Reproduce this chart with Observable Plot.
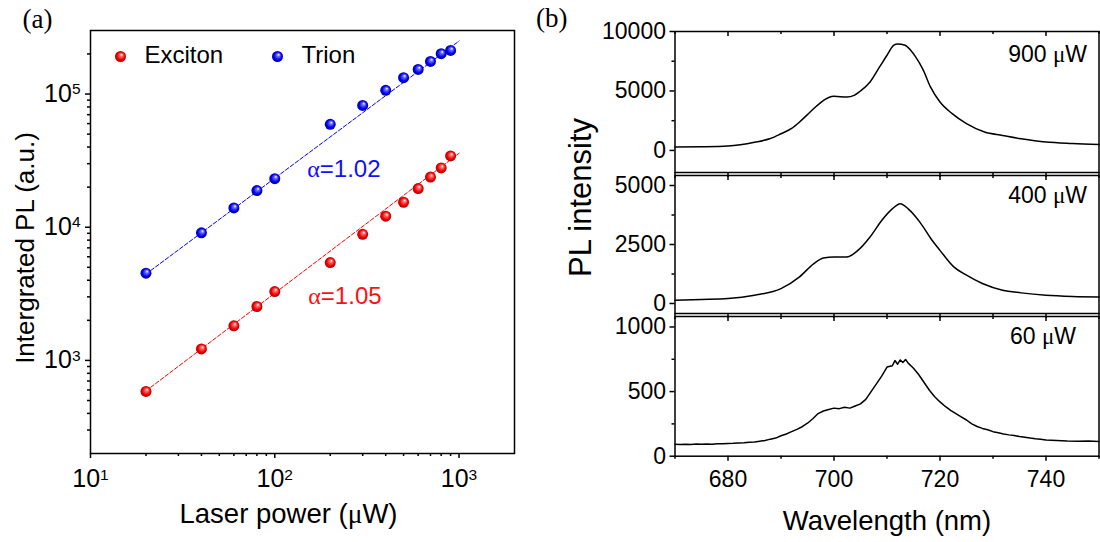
<!DOCTYPE html>
<html><head><meta charset="utf-8">
<script src="https://cdn.jsdelivr.net/npm/d3@7"></script>
<script src="https://cdn.jsdelivr.net/npm/@observablehq/plot@0.6"></script>
<style>
body{margin:0;background:#fff;}
#root{position:relative;width:1100px;height:542px;overflow:hidden;background:#fff;}
#root svg{position:absolute;overflow:visible;}
</style></head><body>
<svg width="0" height="0" style="position:absolute">
<defs>
<radialGradient id="ballRed" cx="0.5" cy="0.5" r="0.5" fx="0.62" fy="0.32">
<stop offset="0" stop-color="#ffffff"/>
<stop offset="0.28" stop-color="#ff6a6a"/>
<stop offset="0.7" stop-color="#f00000"/>
<stop offset="1" stop-color="#b00000"/>
</radialGradient>
<radialGradient id="ballBlue" cx="0.5" cy="0.5" r="0.5" fx="0.62" fy="0.32">
<stop offset="0" stop-color="#ffffff"/>
<stop offset="0.28" stop-color="#6a6aff"/>
<stop offset="0.7" stop-color="#0000f0"/>
<stop offset="1" stop-color="#0000a8"/>
</radialGradient>
</defs></svg>
<div id="root"></div>
<script>
// ---------- Panel (a) data ----------
const power = [20, 40, 60, 80, 100, 200, 300, 400, 500, 600, 700, 800, 900];
const excitonPL = [585, 1220, 1820, 2540, 3290, 5430, 8850, 12100, 15400, 19500, 23800, 27900, 34300];
const trionPL = [4520, 9070, 13960, 18840, 23170, 59300, 82200, 106600, 132700, 153100, 175800, 201000, 212700];
const fitPower = [20, 1000];
const excitonFit = [590, 35900];
const trionFit = [4450, 250000];
const seriesNames = ["Exciton", "Trion"];
const alphaText = ["α=1.05", "α=1.02"];
const alphaAt = [[152, 2630], [150, 23700]];
const xMajorA = [10, 100, 1000];
const xMinorA = [20, 30, 40, 50, 60, 70, 80, 90, 200, 300, 400, 500, 600, 700, 800, 900];
const yMajorA = [1000, 10000, 100000];
const yMinorA = [300, 400, 500, 600, 700, 800, 900, 2000, 3000, 4000, 5000, 6000, 7000, 8000, 9000,
  20000, 30000, 40000, 50000, 60000, 70000, 80000, 90000, 200000];

// ---------- Panel (b) data ----------
const wl900 = [670,675,680,685,688,690,692,693.5,695.5,697.6,699,700,702.4,703.8,705,706.8,708.6,710,711.3,712,713.4,714.5,715.4,716.8,718.2,720,722.3,725,728.4,731.8,735.3,740,745,750];
const pl900 = [280,300,365,680,1000,1400,1850,2390,3230,4070,4450,4550,4490,4630,5000,5760,7020,8000,8850,8950,8850,8400,7870,6800,5340,4070,3090,2250,1545,1260,980,700,580,505];
const wl400 = [670,675,680,685,690,693.5,696.2,698,700,702.4,704.5,706.8,709,711,712.5,714,716.2,718.5,720,722.6,725,728,731.8,735.3,740,745,750];
const pl400 = [140,170,210,350,630,1130,1690,1930,1970,1970,2250,2820,3520,4010,4230,4010,3450,2680,2250,1550,1200,845,560,450,350,300,280];
const wl60 = [670,671,672,673,674,675,676,677,678,679,680,681,682,683,684,685,686,687,688,689,690,691,692,693,694,695,696,697,698,699,700,701,702,703,704,705,706,707,708,709,710,711,711.5,712,712.5,713,713.5,714,715,716,717,718,719,720,721,722,723,724,725,726,727,728,729,730,731,732,733,734,735,736,737,738,739,740,742,744,746,748,750];
const pl60 = [92,90,93,91,94,92,95,93,97,96,98,100,103,104,108,110,116,122,132,140,158,172,190,208,228,255,290,330,350,362,372,368,378,372,388,405,440,500,560,620,690,700,740,712,745,725,748,720,680,630,570,510,460,420,385,355,330,305,280,250,230,215,205,190,182,172,165,160,152,146,140,135,132,125,122,118,116,117,114];
const powerLabels = ["900 μW", "400 μW", "60 μW"];
const wlMajor = [680, 700, 720, 740];
const wlMinor = [670, 690, 710, 730, 750];
const yMajor900 = [0, 5000, 10000], yMinor900 = [2500, 7500];
const yMajor400 = [0, 2500, 5000], yMinor400 = [1250, 3750];
const yMajor60 = [0, 500, 1000], yMinor60 = [250, 750];

const SANS = '"Liberation Sans", Arial, Helvetica, sans-serif';
const SERIF = '"Liberation Serif", "Times New Roman", serif';
const root = document.getElementById("root");
const zip = (xs, ys) => xs.map((x, i) => ({x, y: ys[i]}));
const NS = "http://www.w3.org/2000/svg";

function fixText(svg) {
  svg.querySelectorAll("text").forEach(t => {
    const s = t.textContent;
    const m = s.match(/^10\^(\d)$/);
    if (m) {
      t.textContent = "10";
      const ts = document.createElementNS(NS, "tspan");
      ts.setAttribute("dy", "-0.5em");
      ts.setAttribute("font-size", "0.62em");
      ts.textContent = m[1];
      t.appendChild(ts);
    } else if (s.includes("μ") || s.startsWith("α")) {
      t.textContent = "";
      for (const part of s.split(/([μα])/)) {
        if (!part) continue;
        const ts = document.createElementNS(NS, "tspan");
        if (part === "μ" || part === "α") ts.setAttribute("font-family", SERIF);
        ts.textContent = part;
        t.appendChild(ts);
      }
    }
  });
}
function place(svg, left, top) {
  fixText(svg);
  svg.style.left = left + "px";
  svg.style.top = top + "px";
  root.appendChild(svg);
}

// ---------- Panel (a) ----------
const ex = zip(power, excitonPL), tr = zip(power, trionPL);
const exFit = zip(fitPower, excitonFit), trFit = zip(fitPower, trionFit);
const powFmt = d => "10^" + Math.round(Math.log10(d));
const pa = Plot.plot({
  width: 540, height: 542, marginLeft: 90, marginRight: 26, marginTop: 30, marginBottom: 89,
  style: {background: "transparent", fontFamily: SANS, fontSize: "25px", color: "#000", overflow: "visible"},
  x: {type: "log", domain: [10, 2000]},
  y: {type: "log", domain: [200, 300000]},
  marks: [
    Plot.axisX({ticks: xMajorA, tickSize: 5, tickPadding: 11, tickFormat: powFmt, label: null, strokeWidth: 1.5}),
    Plot.axisX({ticks: xMinorA, tickSize: 3, tickFormat: () => "", label: null, strokeWidth: 1.5}),
    Plot.axisY({ticks: yMajorA, tickSize: 5, tickPadding: 5, tickFormat: powFmt, label: null, strokeWidth: 1.5}),
    Plot.axisY({ticks: yMinorA, tickSize: 3, tickFormat: () => "", label: null, strokeWidth: 1.5}),
    Plot.frame({strokeWidth: 1.5}),
    Plot.line(exFit, {x: "x", y: "y", stroke: "#ff0000", strokeWidth: 1, strokeDasharray: "4,2"}),
    Plot.line(trFit, {x: "x", y: "y", stroke: "#0000ff", strokeWidth: 1, strokeDasharray: "4,2"}),
    Plot.dot(ex, {x: "x", y: "y", r: 5.5, fill: "url(#ballRed)"}),
    Plot.dot(tr, {x: "x", y: "y", r: 5.5, fill: "url(#ballBlue)"}),
    Plot.text([alphaText[0]], {x: [alphaAt[0][0]], y: [alphaAt[0][1]], text: d => d, fill: "#ff1010", textAnchor: "start", lineAnchor: "bottom", fontSize: 24}),
    Plot.text([alphaText[1]], {x: [alphaAt[1][0]], y: [alphaAt[1][1]], text: d => d, fill: "#1010ff", textAnchor: "start", lineAnchor: "bottom", fontSize: 24}),
    // legend
    Plot.dot([seriesNames[0]], {frameAnchor: "top-left", dx: 30, dy: 26, r: 5.5, fill: "url(#ballRed)"}),
    Plot.text([seriesNames[0]], {frameAnchor: "top-left", dx: 54, dy: 25, text: d => d, textAnchor: "start", lineAnchor: "middle", fontSize: 24}),
    Plot.dot([seriesNames[1]], {frameAnchor: "top-left", dx: 187, dy: 26, r: 5.5, fill: "url(#ballBlue)"}),
    Plot.text([seriesNames[1]], {frameAnchor: "top-left", dx: 211, dy: 25, text: d => d, textAnchor: "start", lineAnchor: "middle", fontSize: 24}),
    // titles
    Plot.text(["Laser power (μW)"], {frameAnchor: "bottom", dx: -14, dy: 69, text: d => d, lineAnchor: "bottom", fontSize: 27.5}),
    Plot.text(["Intergrated PL (a.u.)"], {frameAnchor: "left", dx: -57, dy: 6, rotate: -90, text: d => d, textAnchor: "middle", lineAnchor: "bottom", fontSize: 26}),
    Plot.text(["(a)"], {frameAnchor: "top-left", dx: -68, dy: -3, text: d => d, textAnchor: "start", lineAnchor: "bottom", fontFamily: SERIF, fontSize: 27})
  ]
});
place(pa, 0, 0);

// ---------- Panel (b) ----------
function spectrum(cfg) {
  const data = zip(cfg.wl, cfg.pl);
  const frameH = cfg.height - cfg.mt - cfg.mb;
  const marks = [
    Plot.axisY({ticks: cfg.yMajor, tickSize: 5, tickPadding: 4, label: null, strokeWidth: 1.5, tickFormat: d => String(d)}),
    Plot.axisY({ticks: cfg.yMinor, tickSize: 3, tickFormat: () => "", label: null, strokeWidth: 1.5}),
    Plot.axisX({ticks: wlMajor, tickSize: 5, tickPadding: 9, label: null, strokeWidth: 1.5,
      tickFormat: cfg.showX ? (d => String(d)) : (() => "")}),
    Plot.axisX({ticks: wlMinor, tickSize: 3, tickFormat: () => "", label: null, strokeWidth: 1.5}),
    Plot.ruleX(wlMajor, {insetBottom: frameH - 5, strokeWidth: 1.5}),
    Plot.ruleX(wlMinor, {insetBottom: frameH - 3, strokeWidth: 1.5}),
    Plot.frame({strokeWidth: 1.5}),
    Plot.line(data, {x: "x", y: "y", stroke: "#000", strokeWidth: 1.5, curve: cfg.curve || "monotone-x"}),
    Plot.text([cfg.label], {frameAnchor: "top-right", dx: cfg.labelDx, dy: cfg.labelDy, text: d => d, textAnchor: "end", lineAnchor: "top", fontSize: 23})
  ];
  if (cfg.extra) marks.push(...cfg.extra);
  const svg = Plot.plot({
    width: 560, height: cfg.height, marginLeft: 134.5, marginRight: 1.5, marginTop: cfg.mt, marginBottom: cfg.mb,
    style: {background: "transparent", fontFamily: SANS, fontSize: "23px", color: "#000", overflow: "visible"},
    x: {domain: [670, 750]},
    y: {domain: cfg.yDomain},
    marks
  });
  place(svg, 540, cfg.top);
  return svg;
}

spectrum({wl: wl900, pl: pl900, top: 0, height: 182, mt: 31, mb: 10, yDomain: [-1855, 10000],
  yMajor: yMajor900, yMinor: yMinor900, label: powerLabels[0], labelDx: -12, labelDy: 14, showX: false,
  extra: [Plot.text(["(b)"], {frameAnchor: "top-left", dx: -139, dy: -5, text: d => d, textAnchor: "start", lineAnchor: "bottom", fontFamily: SERIF, fontSize: 27})]});
spectrum({wl: wl400, pl: pl400, top: 150, height: 175, mt: 25, mb: 12, yDomain: [-424, 5424],
  yMajor: yMajor400, yMinor: yMinor400, label: powerLabels[1], labelDx: -12, labelDy: 11, showX: false,
  extra: [Plot.text(["PL intensity"], {frameAnchor: "left", dx: -84.5, dy: -47, rotate: -90, text: d => d, textAnchor: "middle", lineAnchor: "bottom", fontSize: 31})]});
spectrum({wl: wl60, pl: pl60, top: 295, height: 247, mt: 21, mb: 86.3, yDomain: [0, 1081], curve: "linear",
  yMajor: yMajor60, yMinor: yMinor60, label: powerLabels[2], labelDx: -23, labelDy: 11, showX: true,
  extra: [Plot.text(["Wavelength (nm)"], {frameAnchor: "bottom", dy: 74, text: d => d, lineAnchor: "bottom", fontSize: 27.5})]});
</script>
</body></html>
